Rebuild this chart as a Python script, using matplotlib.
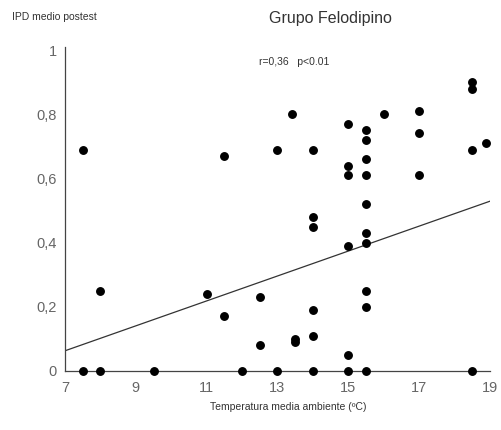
import matplotlib.pyplot as plt

plt.rcParams['font.family'] = ['Liberation Sans', 'DejaVu Sans']

# temperatura media ambiente (ºC) y IPD medio postest
temp = [7.5, 8, 11.5, 13, 11, 11.5, 12.5, 12.5,
        13.4, 14, 14, 14, 14, 14, 13.5, 13.5,
        15, 15, 15, 15, 15,
        15.5, 15.5, 15.5, 15.5, 15.5, 15.5, 15.5, 15.5, 15.5,
        16, 17, 17, 17, 18.5, 18.5, 18.5, 18.9,
        7.5, 8, 9.5, 12, 13, 14, 15, 15.5, 18.5]
ipd = [0.69, 0.25, 0.67, 0.69, 0.24, 0.17, 0.23, 0.08,
       0.80, 0.69, 0.48, 0.45, 0.19, 0.11, 0.10, 0.09,
       0.77, 0.64, 0.61, 0.39, 0.05,
       0.75, 0.72, 0.66, 0.61, 0.52, 0.43, 0.40, 0.25, 0.20,
       0.80, 0.81, 0.74, 0.61, 0.90, 0.88, 0.69, 0.71,
       0, 0, 0, 0, 0, 0, 0, 0, 0]

# recta de regresion
reg_x = [7, 19]
reg_y = [0.063, 0.529]

xticks = [7, 9, 11, 13, 15, 17, 19]
yticks = [0, 0.2, 0.4, 0.6, 0.8, 1]
ylabels = ['0', '0,2', '0,4', '0,6', '0,8', '1']

fig = plt.figure(figsize=(5.02, 4.30), dpi=100)
ax = fig.add_axes([65 / 502, 59 / 430, 425 / 502, 321 / 430])

ax.scatter(temp, ipd, s=29, color='black', zorder=3, clip_on=False)
ax.plot(reg_x, reg_y, color='#333333', lw=0.9)

ax.set_xlim(7, 19)
ax.set_ylim(0, 1)
ax.set_xticks(xticks)
ax.set_yticks(yticks)
ax.set_yticklabels(ylabels)
ax.tick_params(length=0, labelsize=10.5, colors='#666666', pad=6)
ax.tick_params(axis='x', pad=7)

for s in ['top', 'right']:
    ax.spines[s].set_visible(False)
for s in ['left', 'bottom']:
    ax.spines[s].set_color('#444444')
    ax.spines[s].set_linewidth(0.9)
ax.spines['left'].set_bounds(0, 1.01)

fig.text(330 / 502, 1 - 18 / 430, 'Grupo Felodipino', ha='center', va='center',
         fontsize=11.5, color='#333333')
fig.text(12 / 502, 1 - 17 / 430, 'IPD medio postest', ha='left', va='center',
         fontsize=7.5, color='#333333')
fig.text(288 / 502, 1 - 407 / 430, 'Temperatura media ambiente (ºC)', ha='center',
         va='center', fontsize=7.5, color='#333333')
fig.text(294 / 502, 1 - 62 / 430, 'r=0,36   p<0.01', ha='center', va='center',
         fontsize=7.5, color='#333333')

fig.savefig('out.png', dpi=100)
